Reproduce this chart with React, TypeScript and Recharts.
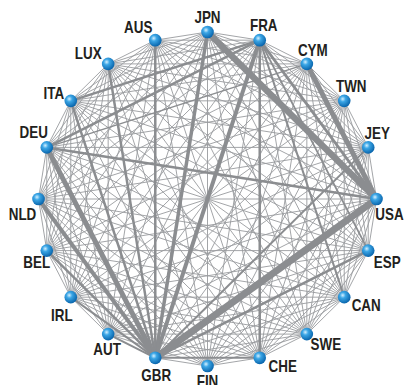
import { ScatterChart, Scatter, XAxis, YAxis, ReferenceLine } from "recharts";

// countries clockwise from the top
const countries = [
  "JPN", "FRA", "CYM", "TWN", "JEY", "USA", "ESP", "CAN", "SWE", "CHE",
  "FIN", "GBR", "AUT", "IRL", "BEL", "NLD", "DEU", "ITA", "LUX", "AUS",
];

// strong links [from, to, weight]
const strongLinks: [string, string, number][] = [
  ["GBR", "USA", 7],
  ["JPN", "USA", 6.5],
  ["CYM", "USA", 5],
  ["DEU", "GBR", 5],
  ["NLD", "GBR", 4],
  ["FRA", "GBR", 4],
  ["JPN", "GBR", 3.5],
  ["FRA", "USA", 2.8],
  ["AUS", "GBR", 2.5],
  ["LUX", "GBR", 2.5],
  ["ITA", "GBR", 2.5],
  ["BEL", "GBR", 2.5],
  ["IRL", "GBR", 2],
  ["AUT", "GBR", 2],
  ["FRA", "CHE", 2.5],
  ["GBR", "ESP", 2.5],
  ["DEU", "USA", 2.5],
  ["ITA", "FRA", 2.5],
  ["DEU", "FRA", 2.5],
  ["GBR", "CHE", 2],
  ["GBR", "JEY", 2],
  ["FRA", "CAN", 2],
  ["FRA", "ESP", 1.8],
  ["DEU", "CYM", 1.5],
];

const CX = 207.5;
const CY = 199;
const RX = 169;
const RY = 167;

const labelOffset: Record<string, [number, number]> = {
  JPN: [0, -14], FRA: [4, -15], CYM: [6, -13], TWN: [7, -14], JEY: [9, -14],
  USA: [13, 16], ESP: [19, 12], CAN: [22, 8], SWE: [19, 10], CHE: [23, 9],
  FIN: [0, 16], GBR: [1, 18], AUT: [-1, 15], IRL: [-9, 18], BEL: [-10, 12],
  NLD: [-16, 16], DEU: [-13, -15], ITA: [-17, -7], LUX: [-20, -10], AUS: [-17, -13],
};

const nodes = countries.map((name, i) => {
  const a = ((-90 + i * 18) * Math.PI) / 180;
  return { name, x: CX + RX * Math.cos(a), y: CY + RY * Math.sin(a) };
});
const pos: Record<string, { x: number; y: number }> = {};
nodes.forEach((n) => (pos[n.name] = n));

const strongKey = new Set(strongLinks.map(([a, b]) => [a, b].sort().join("-")));
const thinLinks: [string, string][] = [];
for (let i = 0; i < countries.length; i++) {
  for (let j = i + 1; j < countries.length; j++) {
    const k = [countries[i], countries[j]].sort().join("-");
    if (!strongKey.has(k)) thinLinks.push([countries[i], countries[j]]);
  }
}

const Node = (props: any) => {
  const { cx, cy } = props;
  return <circle cx={cx} cy={cy} r={6.3} fill="url(#ball)" />;
};

const Label = (props: any) => {
  const { cx, cy, payload } = props;
  const [dx, dy] = labelOffset[payload.name];
  // condensed look: squeeze the bold face horizontally
  return (
    <text
      transform={`translate(${cx + dx},${cy + dy}) scale(0.84,1)`}
      x={0}
      y={0}
      textAnchor="middle"
      dominantBaseline="central"
      fontFamily="'Liberation Sans', Arial, sans-serif"
      fontWeight="bold"
      fontSize={16}
      fill="#231f20"
    >
      {payload.name}
    </text>
  );
};

export default function App() {
  return (
    <div style={{ position: "absolute", left: 0, top: 0, background: "#fff" }}>
      <ScatterChart width={405} height={385} margin={{ top: 0, right: 0, bottom: 0, left: 0 }}>
        <defs>
          <radialGradient id="ball" cx="38%" cy="35%" r="65%">
            <stop offset="0%" stopColor="#d4f0ff" />
            <stop offset="35%" stopColor="#3ba6e6" />
            <stop offset="100%" stopColor="#0a66ad" />
          </radialGradient>
        </defs>
        <XAxis type="number" dataKey="x" domain={[0, 405]} hide />
        <YAxis type="number" dataKey="y" domain={[0, 385]} reversed hide />
        {thinLinks.map(([a, b]) => (
          <ReferenceLine
            key={a + b}
            segment={[pos[a], pos[b]]}
            stroke="#999b9e"
            strokeWidth={0.9}
            ifOverflow="visible"
          />
        ))}
        {strongLinks.map(([a, b, w]) => (
          <ReferenceLine
            key={a + b}
            segment={[pos[a], pos[b]]}
            stroke="#8b8d90"
            strokeWidth={w}
            ifOverflow="visible"
          />
        ))}
        <Scatter data={nodes} shape={Node} isAnimationActive={false} />
        <Scatter data={nodes} shape={Label} isAnimationActive={false} />
      </ScatterChart>
    </div>
  );
}
